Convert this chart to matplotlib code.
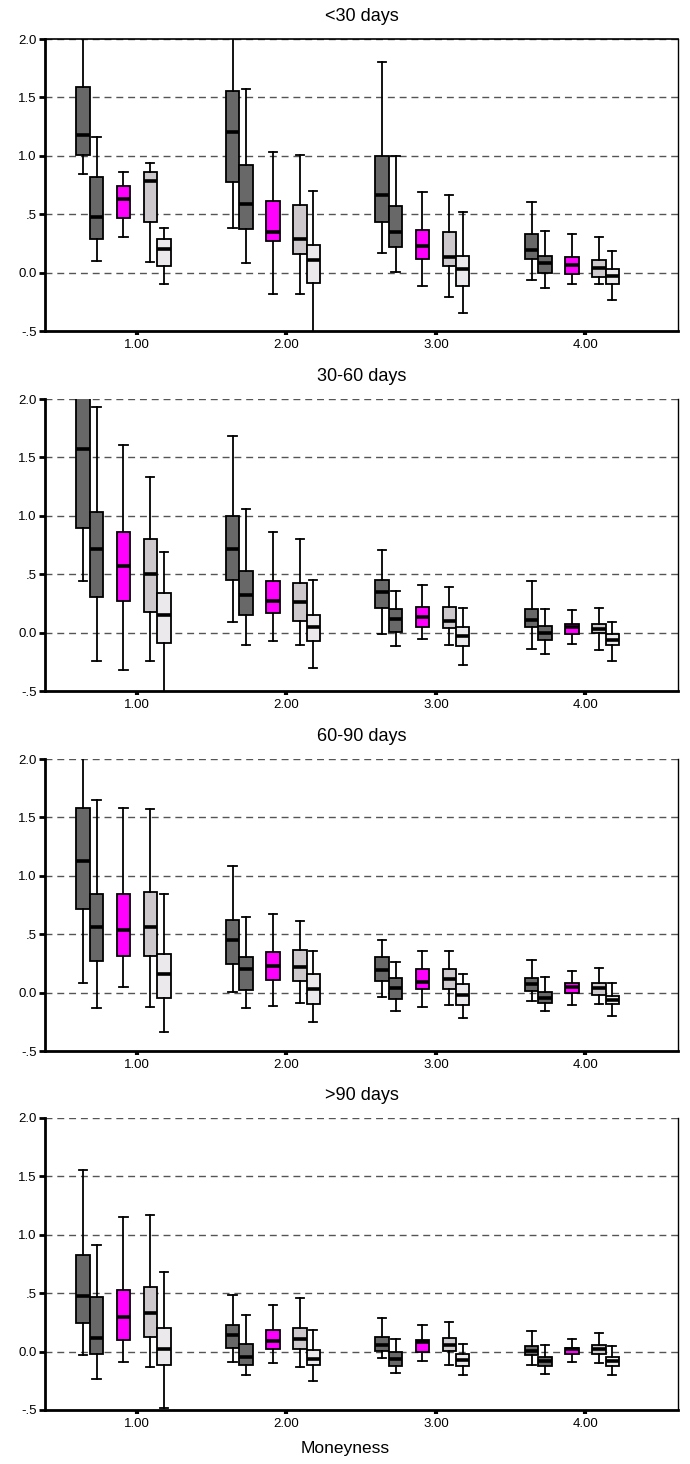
import matplotlib
matplotlib.use('Agg')
import matplotlib.pyplot as plt

plt.rcParams['font.family'] = ['Liberation Sans', 'DejaVu Sans']

# ---------------- data ----------------
moneyness = [1, 2, 3, 4]
xticklabels = ['1.00', '2.00', '3.00', '4.00']
yticks = [-0.5, 0.0, 0.5, 1.0, 1.5, 2.0]
yticklabels = ['-.5', '0.0', '.5', '1.0', '1.5', '2.0']
titles = ['<30 days', '30-60 days', '60-90 days', '>90 days']
xlabel = 'Moneyness'

# rows = moneyness groups 1..4, columns = the five box series
# ----- <30 days -----
lt30_whishi = [[2.30, 1.157, 0.858, 0.935, 0.386],
               [2.30, 1.575, 1.030, 1.010, 0.696],
               [1.805, 1.000, 0.688, 0.668, 0.517],
               [0.608, 0.352, 0.333, 0.307, 0.182]]
lt30_q3 = [[1.590, 0.820, 0.740, 0.858, 0.290],
           [1.557, 0.923, 0.614, 0.577, 0.233],
           [0.995, 0.568, 0.364, 0.344, 0.142],
           [0.333, 0.142, 0.134, 0.105, 0.034]]
lt30_med = [[1.180, 0.477, 0.630, 0.787, 0.199],
            [1.205, 0.588, 0.347, 0.287, 0.111],
            [0.662, 0.347, 0.228, 0.136, 0.028],
            [0.196, 0.085, 0.062, 0.040, -0.028]]
lt30_q1 = [[1.010, 0.290, 0.470, 0.435, 0.054],
           [0.773, 0.372, 0.270, 0.162, -0.088],
           [0.437, 0.219, 0.119, 0.057, -0.114],
           [0.119, 0.000, -0.011, -0.037, -0.094]]
lt30_whislo = [[0.845, 0.100, 0.307, 0.088, -0.094],
               [0.381, 0.083, -0.180, -0.180, -0.600],
               [0.170, 0.006, -0.117, -0.207, -0.350],
               [-0.065, -0.128, -0.094, -0.100, -0.236]]

# ----- 30-60 days -----
d3060_whishi = [[2.60, 1.934, 1.603, 1.334, 0.686],
                [1.683, 1.060, 0.860, 0.800, 0.449],
                [0.709, 0.360, 0.411, 0.391, 0.211],
                [0.440, 0.206, 0.194, 0.211, 0.089]]
d3060_q3 = [[2.10, 1.034, 0.863, 0.800, 0.337],
            [0.997, 0.529, 0.446, 0.426, 0.149],
            [0.449, 0.206, 0.223, 0.223, 0.046],
            [0.206, 0.057, 0.077, 0.077, -0.014]]
d3060_med = [[1.569, 0.720, 0.574, 0.503, 0.149],
             [0.720, 0.323, 0.269, 0.260, 0.046],
             [0.349, 0.117, 0.131, 0.103, -0.026],
             [0.106, -0.003, 0.049, 0.031, -0.060]]
d3060_q1 = [[0.897, 0.303, 0.269, 0.177, -0.091],
            [0.451, 0.151, 0.169, 0.097, -0.074],
            [0.209, 0.006, 0.051, 0.037, -0.117],
            [0.046, -0.060, -0.011, -0.006, -0.103]]
d3060_whislo = [[0.440, -0.246, -0.317, -0.246, -0.600],
                [0.094, -0.103, -0.074, -0.103, -0.303],
                [-0.009, -0.117, -0.054, -0.103, -0.274],
                [-0.137, -0.183, -0.094, -0.146, -0.240]]

# ----- 60-90 days -----
d6090_whishi = [[2.20, 1.653, 1.579, 1.570, 0.848],
                [1.083, 0.650, 0.670, 0.613, 0.352],
                [0.453, 0.264, 0.355, 0.355, 0.160],
                [0.281, 0.135, 0.181, 0.209, 0.080]]
d6090_q3 = [[1.579, 0.842, 0.848, 0.865, 0.332],
            [0.619, 0.304, 0.350, 0.367, 0.160],
            [0.307, 0.126, 0.206, 0.198, 0.072],
            [0.126, 0.009, 0.083, 0.080, -0.029]]
d6090_med = [[1.129, 0.559, 0.533, 0.559, 0.163],
             [0.453, 0.200, 0.226, 0.215, 0.034],
             [0.195, 0.040, 0.092, 0.117, -0.017],
             [0.077, -0.043, 0.046, 0.043, -0.063]]
d6090_q1 = [[0.713, 0.272, 0.312, 0.312, -0.046],
            [0.249, 0.026, 0.109, 0.097, -0.100],
            [0.097, -0.054, 0.034, 0.034, -0.109],
            [0.017, -0.092, -0.003, -0.017, -0.097]]
d6090_whislo = [[0.080, -0.135, 0.046, -0.126, -0.338],
                [0.006, -0.135, -0.117, -0.092, -0.255],
                [-0.034, -0.155, -0.126, -0.109, -0.218],
                [-0.074, -0.155, -0.109, -0.100, -0.198]]

# ----- >90 days -----
gt90_whishi = [[1.556, 0.911, 1.149, 1.166, 0.685],
               [0.487, 0.315, 0.400, 0.461, 0.189],
               [0.289, 0.109, 0.232, 0.252, 0.069],
               [0.175, 0.060, 0.112, 0.163, 0.052]]
gt90_q3 = [[0.825, 0.464, 0.530, 0.556, 0.203],
           [0.232, 0.069, 0.189, 0.206, 0.017],
           [0.126, -0.003, 0.103, 0.117, -0.020],
           [0.052, -0.046, 0.034, 0.054, -0.046]]
gt90_med = [[0.476, 0.117, 0.295, 0.327, 0.020],
            [0.138, -0.046, 0.095, 0.112, -0.060],
            [0.054, -0.060, 0.083, 0.060, -0.072],
            [0.009, -0.083, 0.023, 0.023, -0.083]]
gt90_q1 = [[0.244, -0.020, 0.103, 0.123, -0.117],
           [0.034, -0.117, 0.026, 0.026, -0.117],
           [0.009, -0.120, 0.000, 0.009, -0.120],
           [-0.029, -0.126, -0.020, -0.020, -0.126]]
gt90_whislo = [[-0.029, -0.238, -0.086, -0.135, -0.479],
               [-0.092, -0.198, -0.100, -0.129, -0.249],
               [-0.054, -0.183, -0.083, -0.112, -0.198],
               [-0.112, -0.192, -0.092, -0.100, -0.198]]

panels = [
    (lt30_whislo, lt30_q1, lt30_med, lt30_q3, lt30_whishi),
    (d3060_whislo, d3060_q1, d3060_med, d3060_q3, d3060_whishi),
    (d6090_whislo, d6090_q1, d6090_med, d6090_q3, d6090_whishi),
    (gt90_whislo, gt90_q1, gt90_med, gt90_q3, gt90_whishi),
]

# ---------------- style ----------------
series_colors = ['#686868', '#686868', '#ff00ff', '#ccc8cc', '#ebe9ec']
series_offsets = [-0.36, -0.27, -0.09, 0.09, 0.18]
box_width = 0.09

W, H = 690, 1464
fig = plt.figure(figsize=(W / 100, H / 100), dpi=100)

ax_left = 45 / W
ax_width = (678 - 45) / W
tops = [39, 399, 759, 1118]
ax_h = 292

for pi, (wlo, q1, med, q3, whi) in enumerate(panels):
    top = tops[pi]
    ax = fig.add_axes([ax_left, 1 - (top + ax_h) / H, ax_width, ax_h / H])

    # grid lines
    for yv in [0.0, 0.5, 1.0, 1.5, 2.0]:
        ax.axhline(yv, color='#555555', lw=1.0, ls=(0, (5, 3.5)), zorder=0.5)

    stats, positions, colors = [], [], []
    for gi, m in enumerate(moneyness):
        for si in range(5):
            stats.append(dict(whislo=wlo[gi][si], q1=q1[gi][si], med=med[gi][si],
                              q3=q3[gi][si], whishi=whi[gi][si], fliers=[]))
            positions.append(m + series_offsets[si])
            colors.append(series_colors[si])

    bp = ax.bxp(stats, positions=positions, widths=box_width, patch_artist=True,
                showfliers=False, manage_ticks=False, capwidths=0.055,
                boxprops=dict(edgecolor='black', linewidth=1.3),
                medianprops=dict(color='black', linewidth=2.6, solid_capstyle='butt'),
                whiskerprops=dict(color='black', linewidth=1.3),
                capprops=dict(color='black', linewidth=1.3))
    for patch, c in zip(bp['boxes'], colors):
        patch.set_facecolor(c)
        patch.set_zorder(2)

    ax.set_xlim(0.385, 4.62)
    ax.set_ylim(-0.5, 2.0)
    ax.set_yticks(yticks)
    ax.set_yticklabels(yticklabels)
    ax.set_xticks(moneyness)
    ax.set_xticklabels(xticklabels)
    ax.tick_params(axis='y', direction='out', length=4, width=2, pad=2, labelsize=9.5)
    ax.tick_params(axis='x', direction='out', length=3, width=3, pad=3, labelsize=9.5)

    ax.spines['left'].set_linewidth(2)
    ax.spines['bottom'].set_linewidth(2)
    ax.spines['right'].set_linewidth(1)
    if pi == 0:
        ax.spines['top'].set_linewidth(1.2)
    else:
        ax.spines['top'].set_visible(False)

    ax.annotate(titles[pi], xy=(0.5, 1.0), xycoords='axes fraction',
                xytext=(0, 16), textcoords='offset points',
                ha='center', va='center', fontsize=13)

fig.text(0.5, 1 - 1448 / H, xlabel, ha='center', va='center', fontsize=12.5)

fig.savefig('out.png', dpi=100)
